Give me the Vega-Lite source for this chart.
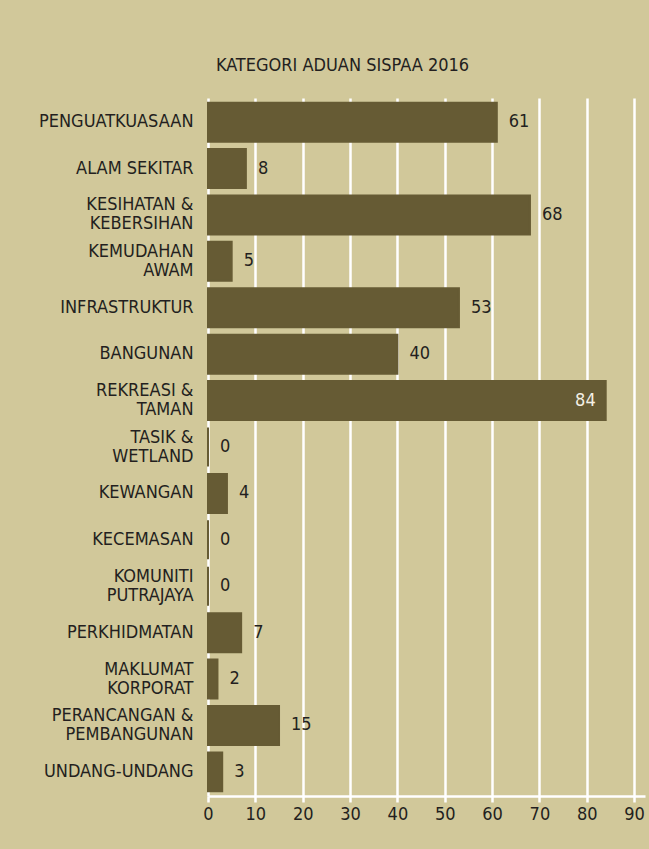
{
  "$schema": "https://vega.github.io/schema/vega-lite/v6.json",
  "width": 437,
  "height": 698,
  "autosize": {"type": "none"},
  "padding": {"left": 208, "top": 98, "right": 4, "bottom": 53},
  "background": "#d1c89a",
  "title": {
    "text": "KATEGORI ADUAN SISPAA 2016",
    "font": "DejaVu Sans Condensed",
    "fontSize": 18,
    "fontWeight": "normal",
    "color": "#231f20",
    "anchor": "middle",
    "frame": "group",
    "dx": -84,
    "offset": 9,
    "baseline": "alphabetic"
  },
  "data": {
    "values": [
      {"kategori": "PENGUATKUASAAN", "aduan": 61},
      {"kategori": "ALAM SEKITAR", "aduan": 8},
      {"kategori": "KESIHATAN &|KEBERSIHAN", "aduan": 68},
      {"kategori": "KEMUDAHAN|AWAM", "aduan": 5},
      {"kategori": "INFRASTRUKTUR", "aduan": 53},
      {"kategori": "BANGUNAN", "aduan": 40},
      {"kategori": "REKREASI &|TAMAN", "aduan": 84},
      {"kategori": "TASIK &|WETLAND", "aduan": 0},
      {"kategori": "KEWANGAN", "aduan": 4},
      {"kategori": "KECEMASAN", "aduan": 0},
      {"kategori": "KOMUNITI|PUTRAJAYA", "aduan": 0},
      {"kategori": "PERKHIDMATAN", "aduan": 7},
      {"kategori": "MAKLUMAT|KORPORAT", "aduan": 2},
      {"kategori": "PERANCANGAN &|PEMBANGUNAN", "aduan": 15},
      {"kategori": "UNDANG-UNDANG", "aduan": 3}
    ]
  },
  "encoding": {
    "y": {
      "field": "kategori",
      "type": "nominal",
      "sort": null,
      "scale": {"paddingInner": 0.16, "paddingOuter": 0.1},
      "axis": {
        "title": null,
        "domain": false,
        "ticks": false,
        "labelPadding": 15,
        "labelFontSize": 18,
        "labelColor": "#231f20",
        "labelLineHeight": 19,
        "labelFont": "DejaVu Sans Condensed",
        "labelOffset": {"condition": {"test": "indexof(datum.value, '|') >= 0", "value": -9.5}, "value": 0},
        "labelExpr": "split(datum.label, '|')"
      }
    },
    "x": {
      "field": "aduan",
      "type": "quantitative",
      "scale": {"domain": [0, 92.3], "nice": false, "zero": true},
      "axis": {
        "title": null,
        "values": [0, 10, 20, 30, 40, 50, 60, 70, 80, 90],
        "grid": true,
        "gridColor": "#ffffff",
        "gridWidth": 2.5,
        "gridOpacity": 1,
        "domainColor": "#ffffff",
        "domainWidth": 2.5,
        "tickColor": "#ffffff",
        "tickWidth": 2.5,
        "tickSize": 6,
        "labelFontSize": 18,
        "labelFont": "DejaVu Sans Condensed",
        "labelColor": "#231f20",
        "labelPadding": 3,
        "labelFlush": false
      }
    }
  },
  "layer": [
    {
      "mark": {"type": "bar", "color": "#665b34", "stroke": "#665b34", "strokeWidth": 2}
    },
    {
      "transform": [{"filter": "datum.aduan < 80"}],
      "mark": {"type": "text", "align": "left", "baseline": "middle", "dx": 12, "fontSize": 18, "font": "DejaVu Sans Condensed", "color": "#231f20"},
      "encoding": {"text": {"field": "aduan", "type": "quantitative"}}
    },
    {
      "transform": [{"filter": "datum.aduan >= 80"}],
      "mark": {"type": "text", "align": "right", "baseline": "middle", "dx": -10, "fontSize": 18, "font": "DejaVu Sans Condensed", "color": "#f4f0e4"},
      "encoding": {"text": {"field": "aduan", "type": "quantitative"}}
    }
  ],
  "config": {"view": {"stroke": null}}
}
